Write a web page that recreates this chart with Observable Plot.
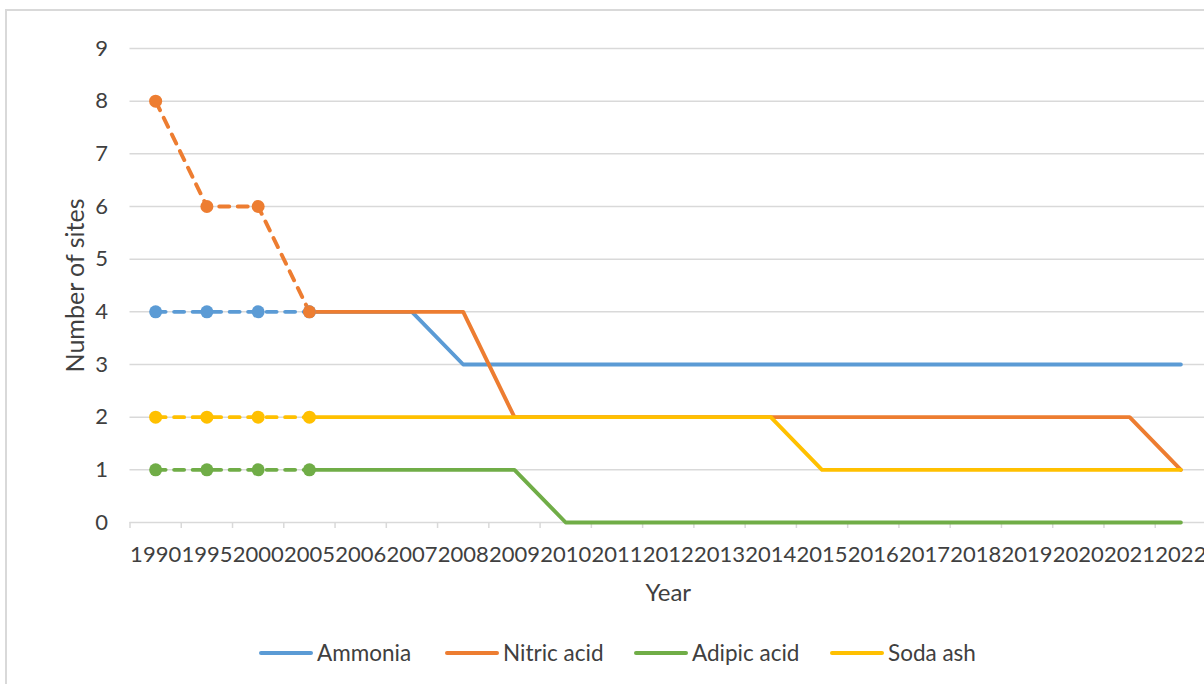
<!DOCTYPE html>
<html>
<head>
<meta charset="utf-8">
<script src="https://cdn.jsdelivr.net/npm/d3@7"></script>
<script src="https://cdn.jsdelivr.net/npm/@observablehq/plot@0.6"></script>
<style>
html, body { margin: 0; padding: 0; background: #fff; overflow: hidden; width: 1204px; height: 684px; }
#frame { position: absolute; left: 5px; top: 9px; width: 1300px; height: 800px; border: 2px solid #d9d9d9; box-sizing: border-box; }
#chart { position: absolute; left: 0; top: 0; }
#legend { position: absolute; left: 0; top: 640px; width: 1204px; height: 26px; font-family: Lato, sans-serif; font-size: 22.5px; color: #404040; }
.item { position: absolute; top: 0; height: 26px; display: flex; align-items: center; line-height: 26px; white-space: nowrap; }
.sw { width: 54px; height: 4px; border-radius: 2px; margin-right: 4px; }
</style>
</head>
<body>
<div id="frame"></div>
<div id="chart"></div>
<div id="legend"></div>
<script>
// ---- data ----
const years = ["1990","1995","2000","2005","2006","2007","2008","2009","2010","2011","2012","2013","2014","2015","2016","2017","2018","2019","2020","2021","2022"];
const seriesNames = ["Ammonia", "Nitric acid", "Adipic acid", "Soda ash"];
const ammonia    = [4,4,4,4,4,4,3,3,3,3,3,3,3,3,3,3,3,3,3,3,3];
const nitricAcid = [8,6,6,4,4,4,4,2,2,2,2,2,2,2,2,2,2,2,2,2,1];
const adipicAcid = [1,1,1,1,1,1,1,1,0,0,0,0,0,0,0,0,0,0,0,0,0];
const sodaAsh    = [2,2,2,2,2,2,2,2,2,2,2,2,2,1,1,1,1,1,1,1,1];
const yTicks = [0,1,2,3,4,5,6,7,8,9];
const colors = ["#5B9BD5", "#ED7D31", "#70AD47", "#FFC000"];
const lastEstimatedIndex = 3; // 1990–2005 drawn dashed with markers

// ---- table ----
const seriesValues = [ammonia, nitricAcid, adipicAcid, sodaAsh];
const rows = [];
seriesNames.forEach((s, k) => seriesValues[k].forEach((v, i) => rows.push({series: s, i, year: years[i], value: v})));
const solid = rows.filter(d => d.i >= lastEstimatedIndex);
const dashed = rows.filter(d => d.i <= lastEstimatedIndex);

const textColor = "#404040";
const gridColor = "#d9d9d9";

const chart = Plot.plot({
  width: 1204,
  height: 620,
  marginTop: 48,
  marginBottom: 98,
  marginLeft: 129.5,
  marginRight: -2,
  style: {fontFamily: "Lato, sans-serif", fontSize: "22px", color: textColor, background: "transparent", overflow: "visible"},
  x: {domain: [-0.5, years.length - 0.5], axis: null, label: null},
  y: {domain: [0, 9], axis: null, label: null},
  color: {domain: seriesNames, range: colors},
  marks: [
    Plot.gridY(yTicks.filter(t => t > 0), {stroke: gridColor, strokeOpacity: 1, strokeWidth: 1.5}),
    Plot.ruleY([0], {stroke: gridColor, strokeWidth: 1.5}),
    Plot.axisX(d3.range(-0.5, years.length, 1), {tickSize: 6, tickFormat: () => "", stroke: gridColor, strokeWidth: 1.5, label: null}),
    Plot.axisX(d3.range(years.length), {tickSize: 0, tickPadding: 24, tickFormat: i => years[i], fontSize: 22, fill: textColor, label: null}),
    Plot.axisY(yTicks, {tickSize: 0, tickPadding: 22, tickFormat: d => String(d), fontSize: 22, fill: textColor, label: null}),
    Plot.line(solid, {x: "i", y: "value", z: "series", stroke: "series", strokeWidth: 3.9, strokeLinejoin: "round", strokeLinecap: "round"}),
    Plot.line(dashed, {x: "i", y: "value", z: "series", stroke: "series", strokeWidth: 3.9, strokeLinejoin: "round", strokeLinecap: "round", strokeDasharray: "10,8.5"}),
    Plot.dot(dashed, {x: "i", y: "value", fill: "series", r: 6.5}),
    Plot.text(["Number of sites"], {frameAnchor: "left", textAnchor: "middle", lineAnchor: "middle", dx: -54.5, dy: 0, rotate: -90, fontSize: 25, fill: textColor}),
    Plot.text(["Year"], {frameAnchor: "bottom", textAnchor: "middle", lineAnchor: "middle", dy: 71, fontSize: 24, fill: textColor})
  ]
});
document.getElementById("chart").appendChild(chart);

// ---- legend ----
const legendLefts = [259, 445, 634, 830];
const legend = document.getElementById("legend");
seriesNames.forEach((s, k) => {
  const item = document.createElement("div");
  item.className = "item";
  item.style.left = legendLefts[k] + "px";
  const sw = document.createElement("span");
  sw.className = "sw";
  sw.style.background = colors[k];
  const label = document.createElement("span");
  label.textContent = s;
  item.appendChild(sw);
  item.appendChild(label);
  legend.appendChild(item);
});
</script>
</body>
</html>
